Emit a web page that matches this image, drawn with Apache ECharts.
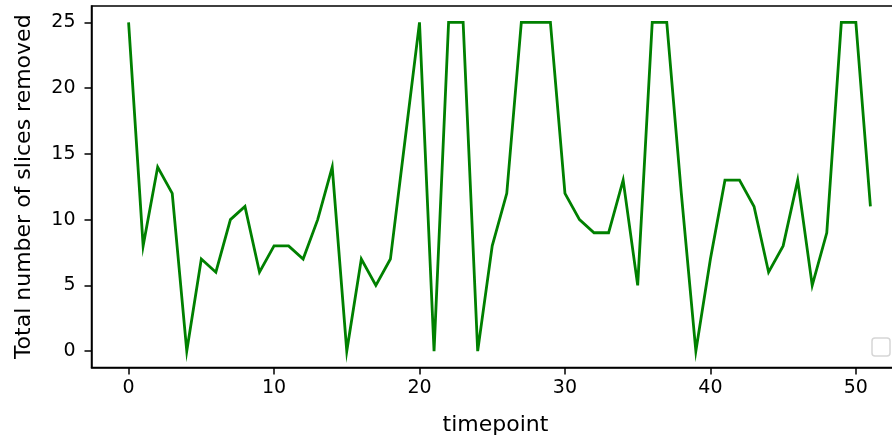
<!DOCTYPE html>
<html>
<head>
<meta charset="utf-8">
<script src="https://cdn.jsdelivr.net/npm/echarts@6/dist/echarts.min.js"></script>
<style>
html,body{margin:0;padding:0;background:#fff;}
#chart{width:892px;height:443px;}
</style>
</head>
<body>
<div id="chart"></div>
<script>
const timepoints = [0,1,2,3,4,5,6,7,8,9,10,11,12,13,14,15,16,17,18,19,20,21,22,23,24,25,26,27,28,29,30,31,32,33,34,35,36,37,38,39,40,41,42,43,44,45,46,47,48,49,50,51];
const slicesRemoved = [25,8,14,12,0,7,6,10,11,6,8,8,7,10,14,0,7,5,7,16,25,0,25,25,0,8,12,25,25,25,12,10,9,9,13,5,25,25,12,0,7,13,13,11,6,8,13,5,9,25,25,11];
const xTicks = [0,10,20,30,40,50];
const yTicks = [0,5,10,15,20,25];
const xLabel = 'timepoint';
const yLabel = 'Total number of slices removed';

const chart = echarts.init(document.getElementById('chart'), null, {renderer:'canvas'});
const font = 'DejaVu Sans';
chart.setOption({
  animation: false,
  backgroundColor: '#ffffff',
  grid: {left: 91.5, top: 6, width: 816, height: 361.5, outerBoundsMode: 'none', containLabel: false,
         show: true, borderColor: '#000', borderWidth: 1.5, backgroundColor: 'transparent'},
  xAxis: {
    type: 'value', min: -2.55, max: 53.55,
    name: xLabel, nameLocation: 'middle', nameGap: 47,
    nameTextStyle: {fontFamily: font, fontSize: 22, color: '#000', padding: [0, 8, 0, 0]},
    axisLine: {show: true, onZero: false, lineStyle: {color: '#000', width: 1.5}},
    axisTick: {show: true, length: 7, inside: false, customValues: xTicks, lineStyle: {color: '#000', width: 1.5}},
    axisLabel: {customValues: xTicks, margin: 11, fontFamily: font, fontSize: 19, color: '#000'},
    splitLine: {show: false}
  },
  yAxis: {
    type: 'value', min: -1.25, max: 26.25,
    name: yLabel, nameLocation: 'middle', nameGap: 56, nameRotate: 90,
    nameTextStyle: {fontFamily: font, fontSize: 22, color: '#000'},
    axisLine: {show: true, onZero: false, lineStyle: {color: '#000', width: 1.5}},
    axisTick: {show: true, length: 7, inside: false, customValues: yTicks, lineStyle: {color: '#000', width: 1.5}},
    axisLabel: {customValues: yTicks, margin: 16, fontFamily: font, fontSize: 19, color: '#000'},
    splitLine: {show: false}
  },
  series: [{
    type: 'line',
    data: timepoints.map((t, i) => [t, slicesRemoved[i]]),
    showSymbol: false,
    clip: false,
    lineStyle: {color: '#008000', width: 2.8, join: 'miter'},
    itemStyle: {color: '#008000'}
  }],
  graphic: [{
    type: 'rect',
    shape: {x: 872, y: 338, width: 18, height: 18, r: 3},
    style: {fill: '#ffffff', stroke: '#d6d6d6', lineWidth: 1.5}
  }]
});
</script>
</body>
</html>
